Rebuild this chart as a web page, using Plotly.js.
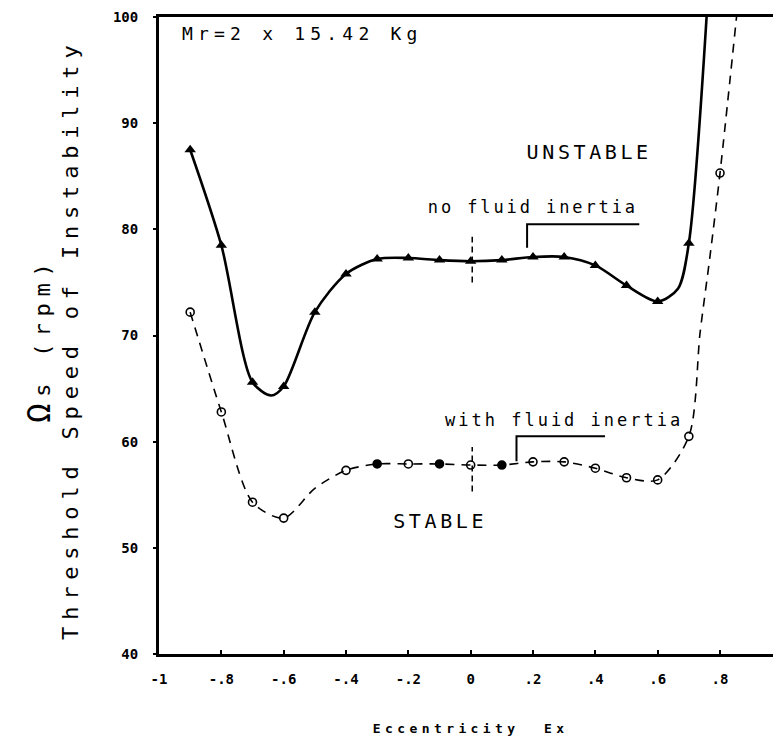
<!DOCTYPE html>
<html>
<head>
<meta charset="utf-8">
<script src="https://cdn.plot.ly/plotly-3.0.1.min.js"></script>
<style>
  html, body { margin: 0; padding: 0; background: #fff; }
  #chart { width: 773px; height: 742px; }
</style>
</head>
<body>
<div id="chart"></div>
<script>
// ---- data ----
// No fluid inertia (solid line, triangles)
const eccNo = [-0.9, -0.8, -0.7, -0.6, -0.5, -0.4, -0.3, -0.2, -0.1, 0, 0.1, 0.2, 0.3, 0.4, 0.5, 0.6, 0.7];
const speedNo = [87.5, 78.5, 65.6, 65.2, 72.2, 75.8, 77.2, 77.3, 77.1, 77.0, 77.1, 77.4, 77.4, 76.6, 74.7, 73.2, 78.7];
// drawn curve of the solid line (passes through the points, dips and leaves the top)
const curveNoX = [-0.9, -0.8, -0.7, -0.64, -0.6, -0.5, -0.4, -0.3, -0.2, -0.1, 0, 0.1, 0.2, 0.3, 0.4, 0.5, 0.6, 0.665, 0.7, 0.758];
const curveNoY = [87.5, 78.5, 65.6, 64.35, 65.2, 72.2, 75.8, 77.2, 77.3, 77.1, 77.0, 77.1, 77.4, 77.4, 76.6, 74.7, 73.2, 74.4, 78.7, 100.5];

// With fluid inertia (dashed line, circles)
const eccWith = [-0.9, -0.8, -0.7, -0.6, -0.4, -0.3, -0.2, -0.1, 0, 0.1, 0.2, 0.3, 0.4, 0.5, 0.6, 0.7, 0.8];
const speedWith = [72.2, 62.8, 54.3, 52.8, 57.3, 57.9, 57.9, 57.9, 57.8, 57.8, 58.1, 58.1, 57.5, 56.6, 56.4, 60.5, 85.3];
const curveWithX = [-0.9, -0.8, -0.7, -0.6, -0.5, -0.4, -0.3, -0.2, -0.1, 0, 0.1, 0.2, 0.3, 0.4, 0.5, 0.6, 0.7, 0.736, 0.768, 0.8, 0.86];
const curveWithY = [72.2, 62.8, 54.3, 52.8, 55.6, 57.3, 57.9, 57.9, 57.9, 57.8, 57.8, 58.1, 58.1, 57.5, 56.6, 56.4, 60.5, 70.25, 77.5, 85.3, 102];

// axis ticks
const xTickVals = [-1, -0.8, -0.6, -0.4, -0.2, 0, 0.2, 0.4, 0.6, 0.8];
const xTickText = ['-1', '-.8', '-.6', '-.4', '-.2', '0', '.2', '.4', '.6', '.8'];
const yTickVals = [40, 50, 60, 70, 80, 90, 100];
const yTickText = ['40', '50', '60', '70', '80', '90', '100'];

// ---- styling ----
const mono = 'DejaVu Sans Mono, Liberation Mono, monospace';
const ink = '#000';

const filledIdx = [5, 7, 9]; // scanned circles that appear filled
const withSymbols = eccWith.map((_, i) => filledIdx.includes(i) ? 'circle' : 'circle-open');

const traces = [
  { x: curveNoX, y: curveNoY, mode: 'lines', line: { color: ink, width: 2.6, shape: 'spline', smoothing: 0.8 }, hoverinfo: 'skip', showlegend: false },
  { x: eccNo, y: speedNo, mode: 'markers', marker: { symbol: 'triangle-up', size: 10, color: ink }, showlegend: false, name: 'no fluid inertia' },
  { x: curveWithX, y: curveWithY, mode: 'lines', line: { color: ink, width: 1.6, dash: '9px,7px', shape: 'spline', smoothing: 0.8 }, hoverinfo: 'skip', showlegend: false },
  { x: eccWith, y: speedWith, mode: 'markers', marker: { symbol: withSymbols, size: 8, color: ink, line: { color: ink, width: 1.6 } }, showlegend: false, name: 'with fluid inertia' }
];

const annots = [
  { xref: 'x', yref: 'y', x: -0.539, y: 98.42, text: 'Mr=2 x 15.42 Kg', font: { family: mono, size: 18, color: ink }, ls: 5.2 },
  { xref: 'x', yref: 'y', x: 0.380, y: 87.25, text: 'UNSTABLE', font: { family: mono, size: 20, color: ink }, ls: 3.6 },
  { xref: 'x', yref: 'y', x: 0.200, y: 82.06, text: 'no fluid inertia', font: { family: mono, size: 17, color: ink }, ls: 2.9 },
  { xref: 'x', yref: 'y', x: 0.299, y: 62.08, text: 'with fluid inertia', font: { family: mono, size: 17, color: ink }, ls: 3.0 },
  { xref: 'x', yref: 'y', x: -0.099, y: 52.52, text: 'STABLE', font: { family: mono, size: 20, color: ink }, ls: 3.6 },
  { xref: 'paper', yref: 'paper', x: 0.507, y: -0.1173, text: 'Eccentricity\u00a0\u00a0Ex', font: { family: mono, size: 13, color: ink, weight: 'bold' }, ls: 4.4 },
  { xref: 'paper', yref: 'paper', x: -0.144, y: 0.494, textangle: -90, text: 'Threshold Speed of Instability', font: { family: mono, size: 22, color: ink }, ls: 6.8 },
  { xref: 'paper', yref: 'paper', x: -0.195, y: 0.494, textangle: -90, text: '<span style="font-size:32px">Ω</span>s (rpm)', font: { family: mono, size: 22, color: ink }, ls: 6.8 }
];

const layout = {
  width: 773, height: 742,
  margin: { l: 159, r: 0, t: 17, b: 88, pad: 0 },
  paper_bgcolor: '#fff', plot_bgcolor: '#fff',
  showlegend: false,
  xaxis: {
    range: [-1, 0.97], tickvals: xTickVals, ticktext: xTickText,
    showline: true, linecolor: ink, linewidth: 3, mirror: true,
    showgrid: false, zeroline: false,
    ticks: 'inside', ticklen: 4, tickwidth: 2, tickcolor: ink,
    ticklabelstandoff: 10,
    tickfont: { family: mono, size: 14, color: ink, weight: 'bold' }
  },
  yaxis: {
    range: [40, 100], tickvals: yTickVals, ticktext: yTickText,
    showline: true, linecolor: ink, linewidth: 3,
    showgrid: false, zeroline: false,
    ticks: 'outside', ticklen: 3, tickwidth: 2, tickcolor: ink,
    ticklabelstandoff: 12,
    tickfont: { family: mono, size: 14, color: ink, weight: 'bold' }
  },
  shapes: [
    { type: 'path', xref: 'x', yref: 'y', path: 'M 0.181 78.27 L 0.181 80.48 L 0.541 80.48', line: { color: ink, width: 2 } },
    { type: 'path', xref: 'x', yref: 'y', path: 'M 0.147 58.15 L 0.147 60.51 L 0.431 60.51', line: { color: ink, width: 2 } },
    { type: 'line', xref: 'x', yref: 'y', x0: 0.005, x1: 0.005, y0: 75.0, y1: 79.3, line: { color: ink, width: 1.5, dash: '6px,4px' } },
    { type: 'line', xref: 'x', yref: 'y', x0: 0.005, x1: 0.005, y0: 55.3, y1: 59.5, line: { color: ink, width: 1.5, dash: '6px,4px' } }
  ],
  annotations: annots.map(a => {
    const o = Object.assign({ showarrow: false, xanchor: 'center', yanchor: 'middle' }, a);
    delete o.ls;
    return o;
  })
};

Plotly.newPlot('chart', traces, layout, { displayModeBar: false, staticPlot: true }).then(() => {
  const groups = document.querySelectorAll('#chart g.annotation');
  groups.forEach((g, k) => {
    const idx = g.hasAttribute('data-index') ? +g.getAttribute('data-index') : k;
    const t = g.querySelector('text.annotation-text');
    if (t && annots[idx] && annots[idx].ls) t.style.letterSpacing = annots[idx].ls + 'px';
  });
});
</script>
</body>
</html>
